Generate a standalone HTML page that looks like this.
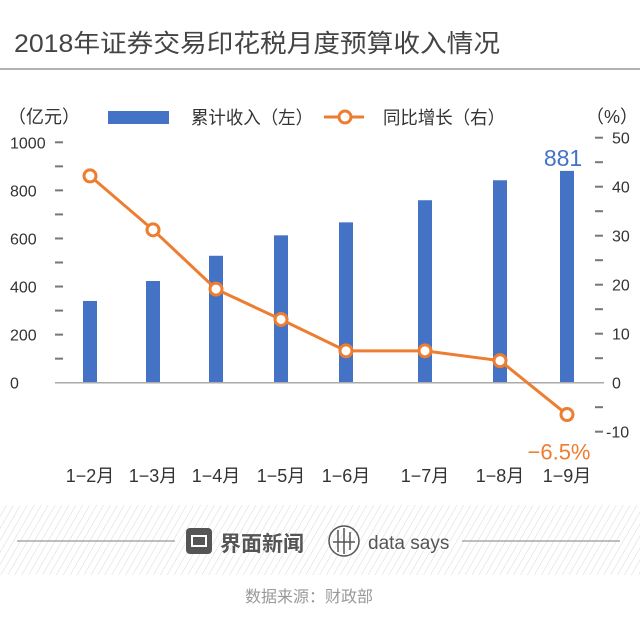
<!DOCTYPE html>
<html><head><meta charset="utf-8">
<style>
body{margin:0;background:#fff;}
#root{position:relative;width:640px;height:617px;overflow:hidden;font-family:"Liberation Sans","Noto Sans CJK SC",sans-serif;}
</style></head>
<body>
<div id="root">
<svg id="svg" width="640" height="617" xmlns="http://www.w3.org/2000/svg">
<defs>
<pattern id="stripes" width="6" height="6" patternUnits="userSpaceOnUse" patternTransform="rotate(30)">
<line x1="0" y1="0" x2="0" y2="6" stroke="#d8d8d8" stroke-width="1"/>
</pattern>
</defs>
<rect x="0" y="0" width="640" height="68" fill="#fff"/>
<text x="14" y="52" font-size="25" fill="#444" textLength="486" lengthAdjust="spacingAndGlyphs">2018年证券交易印花税月度预算收入情况</text>
<line x1="0" y1="69" x2="640" y2="69" stroke="#999" stroke-width="1.5"/>
<text x="8" y="123" font-size="18" fill="#333">（亿元）</text>
<text x="586" y="123" font-size="18" fill="#333">（%）</text>
<rect x="108" y="111" width="61" height="13" fill="#4472c4"/>
<text x="191" y="124" font-size="18" fill="#333" textLength="122" lengthAdjust="spacingAndGlyphs">累计收入（左）</text>
<line x1="324" y1="117" x2="364" y2="117" stroke="#ed7d31" stroke-width="3"/>
<circle cx="345" cy="117" r="6" fill="#fff" stroke="#ed7d31" stroke-width="3"/>
<text x="383" y="124" font-size="18" fill="#333" textLength="122" lengthAdjust="spacingAndGlyphs">同比增长（右）</text>
<g id="plot"></g>
<rect x="0" y="505" width="640" height="70" fill="url(#stripes)"/>
<line x1="17" y1="541" x2="175" y2="541" stroke="#999" stroke-width="1.2"/>
<line x1="462" y1="541" x2="620" y2="541" stroke="#999" stroke-width="1.2"/>
<rect x="186" y="528" width="26" height="26" rx="4" fill="#555"/>
<rect x="192" y="536" width="14" height="10" fill="none" stroke="#fff" stroke-width="2"/>
<text x="220" y="551" font-size="21" font-weight="bold" fill="#555">界面新闻</text>
<circle cx="344" cy="541" r="15" fill="none" stroke="#555" stroke-width="1.5"/>
<path d="M338 530v22M344 528v26M350 532v18M333 542h22" stroke="#555" stroke-width="1.5" fill="none"/>
<text x="368" y="549" font-size="19" fill="#555">data says</text>
<text x="309" y="602" font-size="16" fill="#999" text-anchor="middle">数据来源：财政部</text>
</svg>
</div>
<script>
const categories=["1−2月","1−3月","1−4月","1−5月","1−6月","1−7月","1−8月","1−9月"];
const revenue=[340,423,528,613,667,759,842,881];
const growth=[42.2,31.2,19.1,12.9,6.5,6.5,4.5,-6.5];
const leftTicks=[0,200,400,600,800,1000];
const rightTicks=[-10,0,10,20,30,40,50];
const NS="http://www.w3.org/2000/svg";
const g=document.getElementById('plot');
const xCenters=[90,153,216,281,346,425,500,567];
function xPos(i){return xCenters[i];}
function yL(v){return 382.7-v*0.2404;}
function yR(v){return 382.7-v*4.9;}
function mk(tag,attrs){const e=document.createElementNS(NS,tag);for(const k in attrs)e.setAttribute(k,attrs[k]);g.appendChild(e);return e;}
for(let v=0;v<=1000;v+=100){
 if(v===0)continue;
 const t=mk('line',{x1:55,x2:63,y1:yL(v),y2:yL(v),stroke:'#777','stroke-width':2});
 
 
}
leftTicks.forEach(v=>{
 const t=mk('text',{x:10,y:yL(v)+6,'font-size':16,fill:'#333'});t.textContent=v;
 
 
});
for(let v=-10;v<=50;v+=5){
 if(v===0)continue;
 const t=mk('line',{x1:595,x2:603,y1:yR(v),y2:yR(v),stroke:'#777','stroke-width':2});
 
 
}
rightTicks.forEach(v=>{
 const t=mk('text',{x:v<0?606:612,y:yR(v)+6,'font-size':16,fill:'#333'});t.textContent=v;
 
 
});
revenue.forEach((v,i)=>{
 const b=mk('rect',{x:xPos(i)-7,y:yL(v),width:14,height:yL(0)-yL(v),fill:'#4472c4'});
 
 
});
const ax=mk('line',{x1:55,x2:604,y1:yL(0),y2:yL(0),stroke:'#aaa','stroke-width':1.5});


categories.forEach((c,i)=>{
 const t=mk('text',{x:xPos(i),y:482,'font-size':18,fill:'#333','text-anchor':'middle'});t.textContent=c;
 
 
});
const pl=mk('polyline',{points:growth.map((v,i)=>xPos(i)+','+yR(v)).join(' '),fill:'none',stroke:'#ed7d31','stroke-width':3});


growth.forEach((v,i)=>{
 const c=mk('circle',{cx:xPos(i),cy:yR(v),r:6,fill:'#fff',stroke:'#ed7d31','stroke-width':3});
 
 
});
const n=revenue.length-1;
const l1=mk('text',{x:xPos(n)-4,y:yL(revenue[n])-5,'font-size':23,fill:'#4472c4','text-anchor':'middle'});l1.textContent=revenue[n];


const l2=mk('text',{x:xPos(n)-8,y:yR(growth[n])+45,'font-size':22,fill:'#ed7d31','text-anchor':'middle'});l2.textContent='−'+Math.abs(growth[n])+'%';


</script>
</body></html>
